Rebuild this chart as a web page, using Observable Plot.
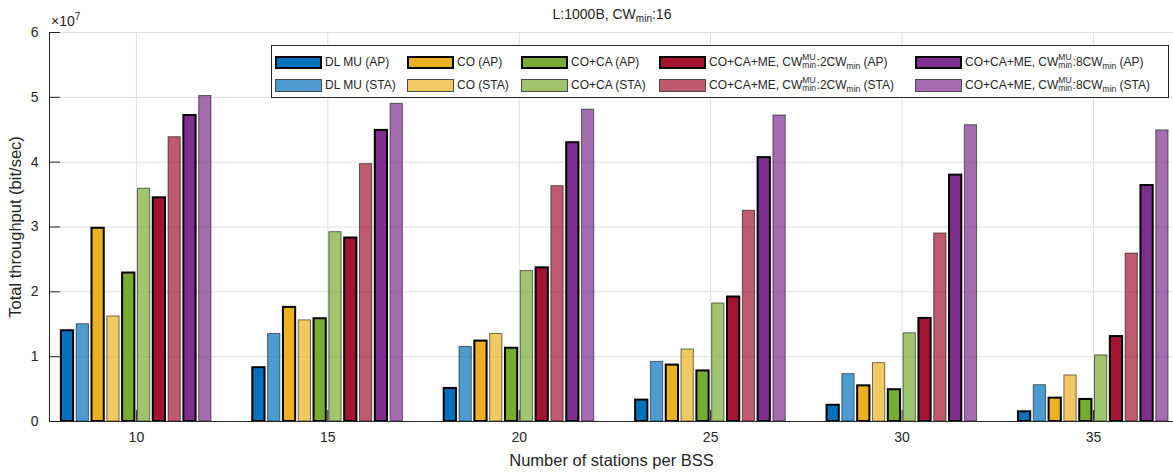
<!DOCTYPE html>
<html>
<head>
<meta charset="utf-8">
<script src="https://cdn.jsdelivr.net/npm/d3@7"></script>
<script src="https://cdn.jsdelivr.net/npm/@observablehq/plot@0.6"></script>
<style>
  body { margin: 0; background: #fff; }
  #wrap { position: relative; width: 1173px; height: 473px; overflow: hidden;
          font-family: "Liberation Sans", Arial, sans-serif; color: #262626; }
  #chart { position: absolute; left: 0; top: 0; }
  #title { position: absolute; left: 412px; width: 400px; top: 6px; text-align: center; font-size: 14px; white-space: nowrap; }
  #title sub { font-size: 10px; vertical-align: -3px; line-height: 0; }
  #exp { position: absolute; left: 51px; top: 13px; font-size: 14px; white-space: nowrap; }
  #exp sup { font-size: 10px; vertical-align: 6px; line-height: 0; }
  #legend { position: absolute; left: 271px; top: 45px; width: 898px; height: 53px; box-sizing: border-box;
            border: 1px solid #262626; background: #fff; font-size: 12px; }
  .item { position: absolute; display: flex; align-items: center; height: 14px; white-space: nowrap; }
  .sw { width: 47px; height: 13px; box-sizing: border-box; margin-right: 3px; flex: none; }
  .item sub { font-size: 8.5px; vertical-align: -3px; line-height: 0; }
  .ss { display: inline-flex; flex-direction: column; font-size: 8.5px; line-height: 8.5px; vertical-align: middle; margin-right: 0.5px; position: relative; top: -1px; }
</style>
</head>
<body>
<div id="wrap">
  <div id="chart"></div>
  <div id="title"></div>
  <div id="exp"></div>
  <div id="legend"></div>
</div>
<script>
// ---- data (values in units of 1e7 bit/sec) ----
const stations = [10, 15, 20, 25, 30, 35];
const dlmuAP  = [1.40, 0.83, 0.51, 0.33, 0.25, 0.15];
const dlmuSTA = [1.50, 1.35, 1.15, 0.92, 0.73, 0.56];
const coAP    = [2.98, 1.76, 1.24, 0.87, 0.55, 0.36];
const coSTA   = [1.62, 1.56, 1.35, 1.11, 0.90, 0.71];
const cocaAP  = [2.29, 1.585, 1.13, 0.78, 0.49, 0.34];
const cocaSTA = [3.59, 2.92, 2.32, 1.82, 1.36, 1.02];
const me2AP   = [3.45, 2.83, 2.37, 1.92, 1.59, 1.31];
const me2STA  = [4.385, 3.97, 3.63, 3.25, 2.90, 2.59];
const me8AP   = [4.72, 4.49, 4.30, 4.07, 3.80, 3.64];
const me8STA  = [5.02, 4.90, 4.81, 4.72, 4.57, 4.49];
const yTicks = [0, 1, 2, 3, 4, 5, 6];
const exponent = 7;
const seriesNames = [
  "DL MU (AP)", "DL MU (STA)", "CO (AP)", "CO (STA)", "CO+CA (AP)", "CO+CA (STA)",
  "CO+CA+ME, CW^MU_min:2CW_min (AP)", "CO+CA+ME, CW^MU_min:2CW_min (STA)",
  "CO+CA+ME, CW^MU_min:8CW_min (AP)", "CO+CA+ME, CW^MU_min:8CW_min (STA)"
];
const seriesColors = ["#0072BD", "#0072BD", "#EDB120", "#EDB120", "#77AC30", "#77AC30",
                      "#A2142F", "#A2142F", "#7E2F8E", "#7E2F8E"];
const seriesValues = [dlmuAP, dlmuSTA, coAP, coSTA, cocaAP, cocaSTA, me2AP, me2STA, me8AP, me8STA];
const titleText = "L:1000B, CW_min:16";
const xLabel = "Number of stations per BSS";
const yLabel = "Total throughput (bit/sec)";

// ---- build ----
const nSeries = seriesNames.length;
const slot = 0.4, barW = 0.32;
const rows = seriesValues.flatMap((vals, i) => stations.map((st, j) => ({
  station: st, value: vals[j], i, color: seriesColors[i], ap: i % 2 === 0
})));
const xc = d => d.station + (d.i - (nSeries - 1) / 2) * slot;
const xDomain = [7.73, 37.09];

const fmt = s => s.replace(/\^MU_min/g, '<span class="ss"><span>MU</span><span>min</span></span>')
                  .replace(/_min/g, '<sub>min</sub>');

const chart = Plot.plot({
  width: 1173, height: 473,
  marginLeft: 49, marginRight: 0, marginTop: 32, marginBottom: 52,
  style: { fontFamily: '"Liberation Sans", Arial, sans-serif', color: "#262626", background: "transparent", overflow: "visible" },
  x: { type: "linear", domain: xDomain },
  y: { domain: [0, 6] },
  color: { type: "identity" },
  marks: [
    Plot.gridY(yTicks, { stroke: "#dfdfdf", strokeOpacity: 1 }),
    Plot.gridX(stations, { stroke: "#dfdfdf", strokeOpacity: 1 }),
    Plot.rect(rows.filter(d => !d.ap), {
      x1: d => xc(d) - barW / 2, x2: d => xc(d) + barW / 2, y1: 0, y2: "value",
      fill: "color", fillOpacity: 0.7, stroke: "#000", strokeOpacity: 0.55, strokeWidth: 1
    }),
    Plot.rect(rows.filter(d => d.ap), {
      x1: d => xc(d) - barW / 2, x2: d => xc(d) + barW / 2, y1: 0, y2: "value",
      fill: "color", stroke: "#000", strokeWidth: 2
    }),
    Plot.axisY(yTicks, { tickSize: -11, tickFormat: () => "", label: null, stroke: "#262626" }),
    Plot.axisX(stations, { tickSize: -11, tickFormat: () => "", label: null, stroke: "#262626" }),
    Plot.ruleY([0], { stroke: "#262626" }),
    Plot.ruleX([xDomain[0]], { stroke: "#262626" }),
    Plot.axisY(yTicks, { tickSize: 0, tickPadding: 11, label: null, fontSize: 14, tickFormat: d => String(d) }),
    Plot.axisX(stations, { tickSize: 0, tickPadding: 11, label: null, fontSize: 14, tickFormat: d => String(d) }),
    Plot.axisY([], { label: yLabel, labelAnchor: "center", labelOffset: 40, labelArrow: "none", fontSize: 16.5 }),
    Plot.axisX([], { label: xLabel, labelAnchor: "center", labelOffset: 44, labelArrow: "none", fontSize: 16.5 })
  ]
});
document.getElementById("chart").appendChild(chart);

document.getElementById("title").innerHTML = fmt(titleText);
document.getElementById("exp").innerHTML = "×10<sup>" + exponent + "</sup>";

// legend: 2 rows x 5 columns, AP on top row, STA on bottom row
const colX = [3, 135, 249, 387, 643];
const rowY = [9, 32];
const legend = document.getElementById("legend");
seriesNames.forEach((name, i) => {
  const col = Math.floor(i / 2), row = i % 2;
  const item = document.createElement("div");
  item.className = "item";
  item.style.left = colX[col] + "px";
  item.style.top = rowY[row] + "px";
  const sw = document.createElement("div");
  sw.className = "sw";
  sw.style.background = seriesColors[i];
  if (row === 0) {
    sw.style.border = "2px solid #000";
  } else {
    sw.style.opacity = "0.7";
    sw.style.border = "1px solid #000";
  }
  const label = document.createElement("span");
  label.innerHTML = fmt(name);
  item.appendChild(sw);
  item.appendChild(label);
  legend.appendChild(item);
});
</script>
</body>
</html>
